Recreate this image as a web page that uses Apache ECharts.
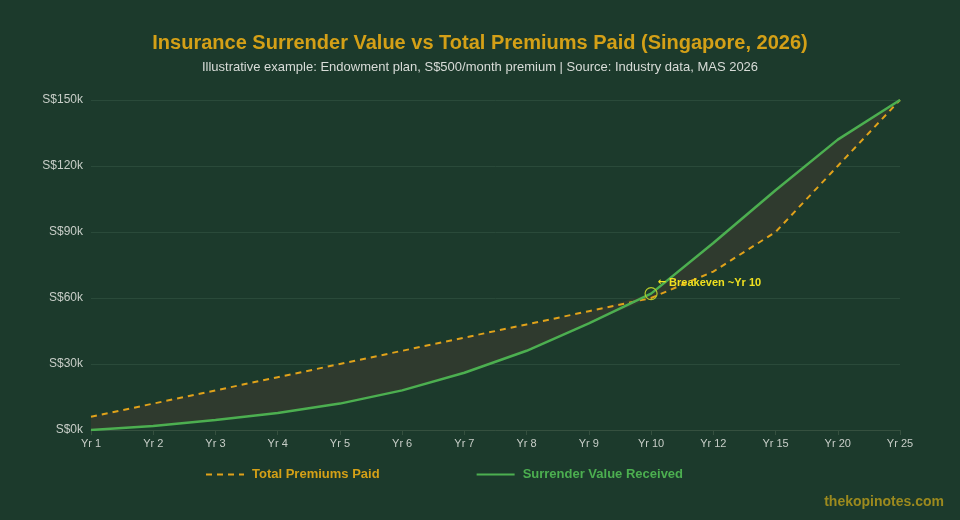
<!DOCTYPE html>
<html>
<head>
<meta charset="utf-8">
<script src="https://cdn.jsdelivr.net/npm/echarts@6/dist/echarts.min.js"></script>
<style>
html, body { margin: 0; padding: 0; background: #1c3a2c; }
#chart { width: 960px; height: 520px; }
</style>
</head>
<body>
<div id="chart"></div>
<script>
var years = ['Yr 1', 'Yr 2', 'Yr 3', 'Yr 4', 'Yr 5', 'Yr 6', 'Yr 7', 'Yr 8', 'Yr 9', 'Yr 10', 'Yr 12', 'Yr 15', 'Yr 20', 'Yr 25'];
var premiumsPaid = [6000, 12000, 18000, 24000, 30000, 36000, 42000, 48000, 54000, 60000, 72000, 90000, 120000, 150000];
var surrenderValue = [0, 1800, 4500, 7700, 12000, 18000, 26000, 36000, 48500, 62000, 85000, 109000, 132000, 150000];

// band between the two lines (lower edge + gap)
var lower = [], gap = [];
for (var i = 0; i < years.length; i++) {
	lower.push(Math.min(premiumsPaid[i], surrenderValue[i]));
	gap.push(Math.abs(premiumsPaid[i] - surrenderValue[i]));
}

var chart = echarts.init(document.getElementById('chart'));
var option = {
	backgroundColor: '#1c3a2c',
	animation: false,
	title: {
		text: 'Insurance Surrender Value vs Total Premiums Paid (Singapore, 2026)',
		subtext: 'Illustrative example: Endowment plan, S$500/month premium | Source: Industry data, MAS 2026',
		left: 'center',
		top: 28,
		itemGap: 8,
		textStyle: { color: '#d4a017', fontSize: 20, fontWeight: 'bold', fontFamily: 'Liberation Sans' },
		subtextStyle: { color: '#d8dcd8', fontSize: 13, fontFamily: 'Liberation Sans' }
	},
	legend: {
		bottom: 34,
		left: 200,
		itemGap: 96,
		itemWidth: 38,
		itemHeight: 10,
		itemStyle: { opacity: 0 },
		textStyle: { fontSize: 13, fontWeight: 'bold', fontFamily: 'Liberation Sans', padding: [0, 0, 0, 3] },
		data: [
			{ name: 'Total Premiums Paid', textStyle: { color: '#d4a017' } },
			{ name: 'Surrender Value Received', textStyle: { color: '#4caf50' } }
		]
	},
	grid: { left: 91, right: 60, top: 100, bottom: 90 },
	xAxis: {
		type: 'category',
		boundaryGap: false,
		data: years,
		axisLine: { lineStyle: { color: '#35503f' } },
		axisTick: { lineStyle: { color: '#35503f' } },
		axisLabel: { color: '#c8cec8', fontSize: 11, fontFamily: 'Liberation Sans' }
	},
	yAxis: {
		type: 'value',
		min: 0,
		max: 150000,
		interval: 30000,
		axisLine: { show: false },
		axisTick: { show: false },
		splitLine: { lineStyle: { color: '#2a4a3a' } },
		axisLabel: {
			color: '#c8cec8', fontSize: 12, fontFamily: 'Liberation Sans',
			formatter: function (v) { return 'S$' + (v / 1000) + 'k'; }
		}
	},
	series: [
		{
			name: 'band-base',
			type: 'line',
			stack: 'band',
			data: lower,
			symbol: 'none',
			lineStyle: { opacity: 0 },
			silent: true
		},
		{
			name: 'band-gap',
			type: 'line',
			stack: 'band',
			data: gap,
			symbol: 'none',
			lineStyle: { opacity: 0 },
			areaStyle: { color: '#2f3a2e', opacity: 1 },
			silent: true
		},
		{
			name: 'Total Premiums Paid',
			type: 'line',
			data: premiumsPaid,
			symbol: 'none',
			itemStyle: { color: '#e0a21a' },
			lineStyle: { color: '#e0a21a', width: 2, type: [6, 5] }
		},
		{
			name: 'Surrender Value Received',
			type: 'line',
			data: surrenderValue,
			symbol: 'none',
			itemStyle: { color: '#4caf50' },
			lineStyle: { color: '#4caf50', width: 2.5 },
			markPoint: {
				symbol: 'circle',
				symbolSize: 12,
				itemStyle: { color: 'rgba(0,0,0,0)', borderColor: '#b5c92a', borderWidth: 1.2 },
				label: {
					show: true,
					position: 'right',
					distance: 0,
					offset: [0, -11],
					color: '#f0e020',
					fontSize: 11,
					fontWeight: 'bold',
					fontFamily: 'Liberation Sans',
					formatter: '{a|\u2190} Breakeven ~Yr 10',
					rich: {
						a: { fontFamily: 'DejaVu Sans', fontSize: 10, color: '#f0e020' }
					}
				},
				data: [{ coord: ['Yr 10', 62000] }]
			}
		}
	],
	graphic: [{
		type: 'text',
		right: 16,
		bottom: 11,
		style: {
			text: 'thekopinotes.com',
			fill: '#9c8a1e',
			font: 'bold 14px "Liberation Sans"'
		}
	}]
};
chart.setOption(option);
</script>
</body>
</html>
